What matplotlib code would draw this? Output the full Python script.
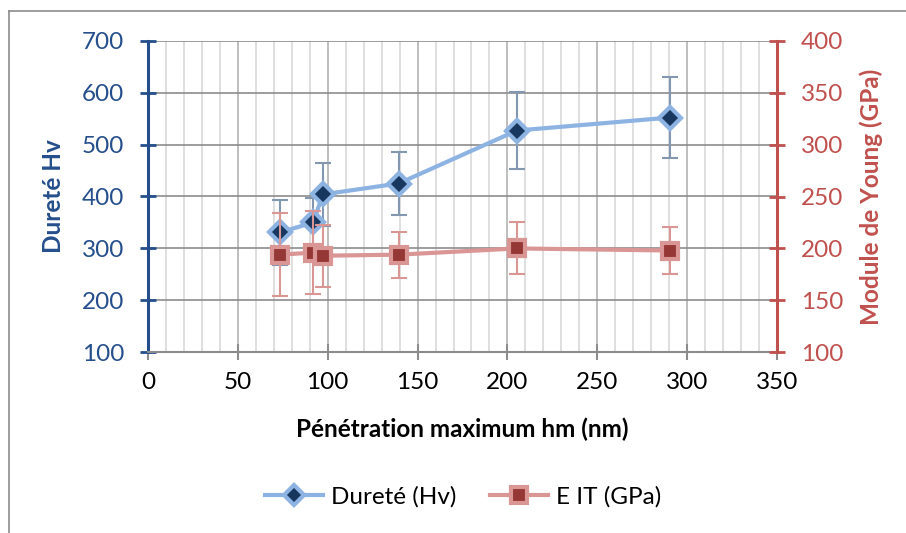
import numpy as np
import matplotlib.pyplot as plt
from matplotlib.lines import Line2D

# values
hm = [73.5, 92, 97.2, 139.4, 205.2, 290.4]
durete = [331, 350, 404, 425, 527, 552]
durete_err = [63, 47, 60, 61, 75, 78]
eit = [194, 196, 193, 194, 200, 198]
eit_err = [40, 40, 30, 22, 25, 23]

blue_dark = '#254f8c'
red_axis = '#c0504d'
blue_line = '#8db3e2'
blue_fill = '#17375e'
red_line = '#d99694'
red_fill = '#953735'

plt.rcParams['font.family'] = ['Lato', 'DejaVu Sans']

fig = plt.figure(figsize=(9.06, 5.33), dpi=100)
ax = fig.add_axes([148 / 906, 1 - 352.3 / 533, (777 - 148) / 906, (352.3 - 40.7) / 533])
ax2 = ax.twinx()

# chart frame (top and left borders visible in the reference)
fig.add_artist(Line2D([9 / 906, 1.0], [1 - 11 / 533] * 2, color='#8c8c8c', lw=1.2))
fig.add_artist(Line2D([9 / 906] * 2, [0, 1 - 11 / 533], color='#8c8c8c', lw=1.2))

ax.set_xlim(0, 350)
ax.set_ylim(100, 700)
ax2.set_ylim(100, 400)
ax.set_xticks(np.arange(0, 351, 50))
ax.set_xticks(np.arange(0, 351, 10), minor=True)
ax.set_yticks(np.arange(100, 701, 100))
ax2.set_yticks(np.arange(100, 401, 50))

ax.grid(True, which='minor', axis='x', color='#d9d9d9', lw=1.2)
ax.grid(True, which='major', axis='x', color='#b3b3b3', lw=1.2)
ax.grid(True, which='major', axis='y', color='#8c8c8c', lw=1.2)
ax.set_axisbelow(True)

for a in (ax, ax2):
    a.spines['top'].set_visible(False)
ax.spines['right'].set_visible(False)
ax2.spines['left'].set_visible(False)
ax2.spines['bottom'].set_visible(False)
ax.spines['left'].set_color(blue_dark)
ax.spines['left'].set_linewidth(2.2)
ax.spines['bottom'].set_color('#8c8c8c')
ax.spines['bottom'].set_linewidth(1.5)
ax2.spines['right'].set_color(red_axis)
ax2.spines['right'].set_linewidth(2.2)

fs = 17.5
ax.tick_params(axis='y', direction='inout', length=12, width=2, color=blue_dark,
               labelcolor=blue_dark, labelsize=fs, pad=11)
ax.tick_params(axis='x', which='major', direction='inout', length=12, width=1.5,
               color='#8c8c8c', labelcolor='black', labelsize=fs, pad=8)
ax.tick_params(axis='x', which='minor', length=0)
ax2.tick_params(axis='y', direction='inout', length=12, width=2, color=red_axis,
                labelcolor=red_axis, labelsize=fs, pad=11)

ax.errorbar(hm, durete, yerr=durete_err, fmt='none', ecolor='#8497b0', elinewidth=1.5,
            capsize=6, capthick=1.5, zorder=3)
ax.plot(hm, durete, color=blue_line, lw=3, marker='D', ms=11, mfc=blue_fill,
        mec=blue_line, mew=3, zorder=4)
ax2.errorbar(hm, eit, yerr=eit_err, fmt='none', ecolor=red_line, elinewidth=1.5,
             capsize=6, capthick=1.5, zorder=3)
ax2.plot(hm, eit, color=red_line, lw=3, marker='s', ms=12, mfc=red_fill,
         mec=red_line, mew=3, zorder=4)

ax.set_ylabel('Dureté Hv', color=blue_dark, fontsize=fs, fontweight='bold', labelpad=12)
ax2.set_ylabel('Module de Young (GPa)', color=red_axis, fontsize=fs, fontweight='bold', labelpad=12)
ax.set_xlabel('Pénétration maximum hm (nm)', fontsize=fs, fontweight='bold', labelpad=18)

handles = [
    Line2D([], [], color=blue_line, lw=3, marker='D', ms=10, mfc=blue_fill, mec=blue_line, mew=3),
    Line2D([], [], color=red_line, lw=3, marker='s', ms=11, mfc=red_fill, mec=red_line, mew=3),
]
fig.legend(handles, ['Dureté (Hv)', 'E IT (GPa)'], loc='center', bbox_to_anchor=(463 / 906, 1 - 497 / 533),
           ncol=2, frameon=False, fontsize=fs, handlelength=2.4, columnspacing=1.4, handletextpad=0.3)

fig.savefig('out.png', dpi=100)
